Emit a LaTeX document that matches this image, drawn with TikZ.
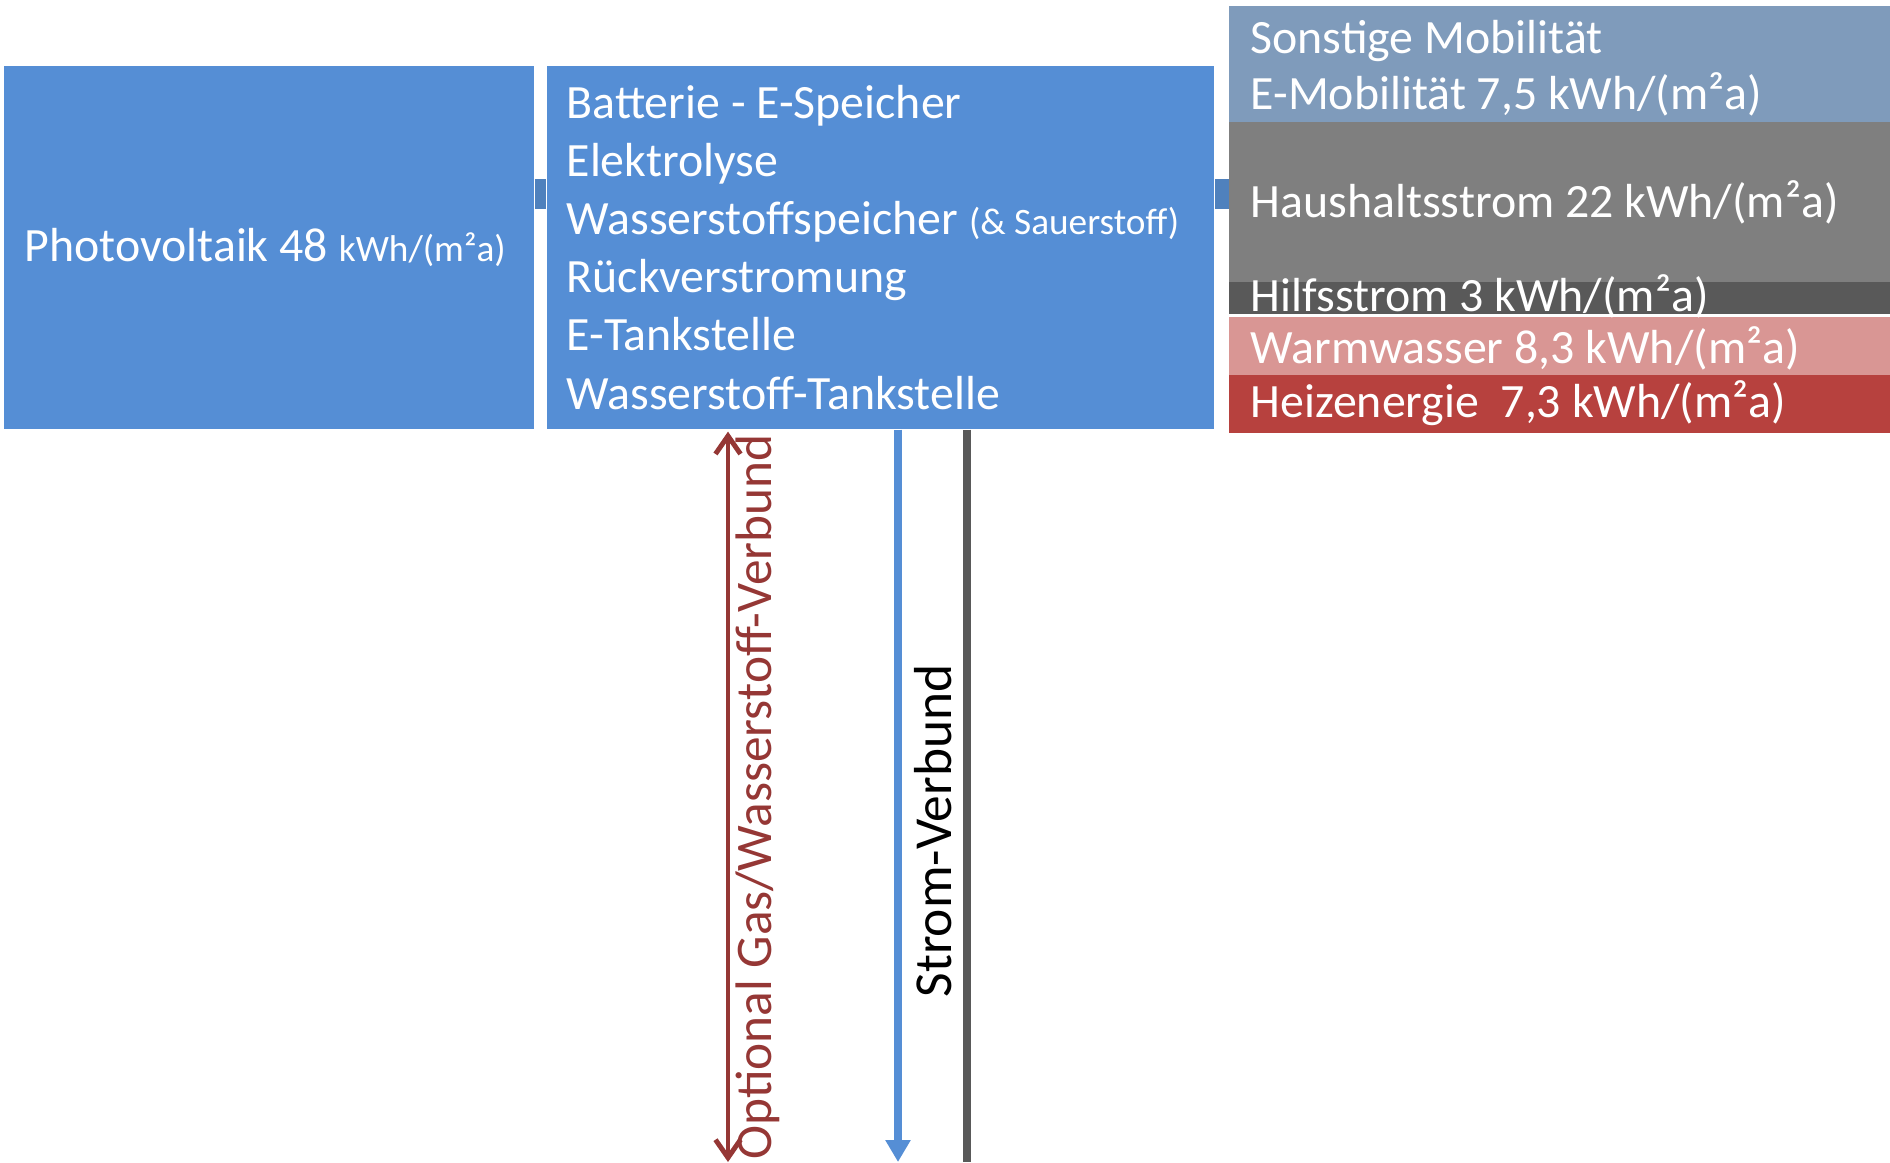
\documentclass[tikz,border=0pt]{standalone}
\usepackage{fontspec}
\setmainfont{Carlito}
\usepackage{tikz}
\usetikzlibrary{arrows.meta}
\usetikzlibrary{calc}

\definecolor{pvblue}{HTML}{558ED5}
\definecolor{barblue}{HTML}{4F81BD}
\definecolor{mobblue}{HTML}{7F9BBB}
\definecolor{hausgrey}{HTML}{7F7F7F}
\definecolor{hilfgrey}{HTML}{595959}
\definecolor{warmpink}{HTML}{D99694}
\definecolor{heizred}{HTML}{B7413E}
\definecolor{gasred}{HTML}{953735}

\newcommand{\unitsmall}[1]{{\fontsize{10.6}{12}\selectfont #1}}

\begin{document}
\begin{tikzpicture}[x=0.01cm,y=-0.01cm,
    every node/.style={font=\fontsize{13.6}{16.5}\selectfont},
    box/.style={rectangle,fill=pvblue,anchor=north west,inner sep=0pt,minimum height=3.63cm},
    band/.style={rectangle,anchor=north west,inner sep=0pt,outer sep=0pt,minimum width=6.6cm,line width=0.3pt},
    txt/.style={text=white,inner sep=0pt,anchor=base west,align=left}]

  \useasboundingbox (0,0) rectangle (1890,1162);

  \coordinate (bar) at (0,194);

  \node [box,minimum width=5.30cm] (pv) at (3,65) {};
  \node [box,minimum width=6.67cm] (mid) at (546,65) {};

  \path [draw,barblue,line width=0.30cm]
    (pv.east |- bar)  edge (mid.west |- bar)
    (mid.east |- bar) edge (1232,194);

  \node [band,fill=mobblue,draw=mobblue,minimum height=1.15cm] (mob) at (1230,7) {};
  \node [band,fill=hausgrey,draw=hausgrey,minimum height=1.60cm] (haus) at (mob.south west) {};
  \node [band,fill=hilfgrey,draw=hilfgrey,minimum height=0.31cm] (hilf) at (haus.south west) {};
  \node [band,fill=warmpink,draw=warmpink,minimum height=0.58cm] (warm) at ([yshift=-0.04cm]hilf.south west) {};
  \node [band,fill=heizred,draw=heizred,minimum height=0.57cm] (heiz) at (warm.south west) {};

  \node [txt] (pvtxt) at (24,261) {Photovoltaik 48 \unitsmall{kWh/(m²a)}};
  \node [txt] (midtxt) at (566,409) {Batterie - E-Speicher\\
    Elektrolyse\\
    Wasserstoffspeicher \unitsmall{(\& Sauerstoff)}\\
    Rückverstromung\\
    E-Tankstelle\\
    Wasserstoff-Tankstelle};

  \node [txt] (mobtxt) at (1250,53) {Sonstige Mobilität};
  \node [txt] (emobtxt) at (1250,109) {E-Mobilität 7,5 kWh/(m²a)};
  \node [txt] (haustxt) at (1250,217) {Haushaltsstrom 22 kWh/(m²a)};
  \node [txt] (hilftxt) at (1250,311) {Hilfsstrom 3 kWh/(m²a)};
  \node [txt] (warmtxt) at (1250,363) {Warmwasser 8,3 kWh/(m²a)};
  \node [txt] (heiztxt) at (1250,417) {Heizenergie\ \ 7,3 kWh/(m²a)};

  \coordinate (gasend) at (728,1162);
  \coordinate (stromend) at (898,1162);
  \coordinate (netzend) at (967,1162);

  \draw [gasred,line width=1.4pt,{Straight Barb[length=1.8mm,width=2.5mm]}-{Straight Barb[length=1.8mm,width=2.5mm]}]
    ([yshift=-0.02cm]mid.south -| gasend) -- (gasend);
  \draw [pvblue,line width=2.3pt,-{Triangle[length=2.2mm,width=2.4mm]}]
    (mid.south -| stromend) -- (stromend);
  \draw [hilfgrey,line width=2.3pt] (mid.south -| netzend) -- (netzend);

  \node [rotate=90,text=gasred,font=\fontsize{14.6}{17}\selectfont] (gaslbl) at (758,797) {Optional Gas/Wasserstoff-Verbund};
  \node [rotate=90,font=\fontsize{15.2}{18}\selectfont] (stromlbl) at (933,831) {Strom-Verbund};
\end{tikzpicture}
\end{document}
